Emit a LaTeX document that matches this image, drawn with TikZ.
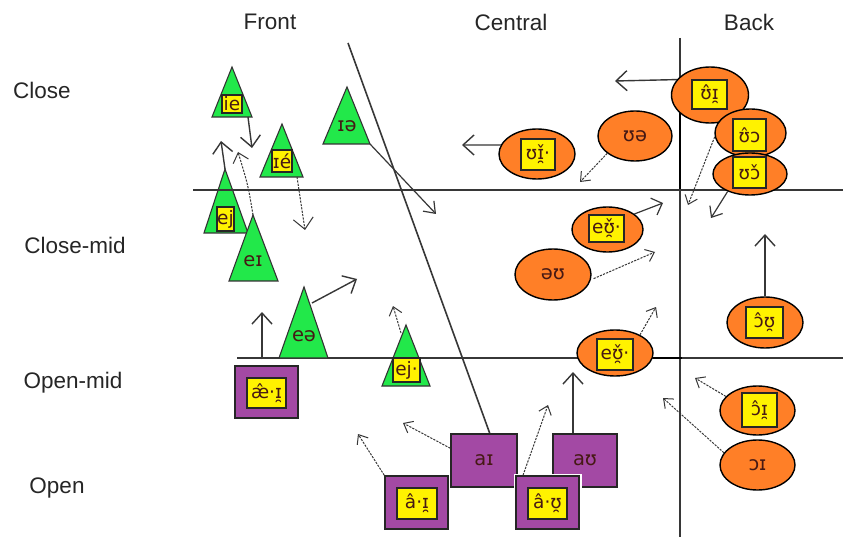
\documentclass[tikz,border=0pt]{standalone}
\usepackage{fontspec}
\setmainfont{Liberation Sans}
\newfontfamily\ipafont{DejaVu Sans}
\usetikzlibrary{arrows.meta,shapes.geometric}
\definecolor{tgreen}{RGB}{34,232,74}
\definecolor{torange}{RGB}{255,127,39}
\definecolor{tpurple}{RGB}{163,73,164}
\definecolor{tyellow}{RGB}{255,242,0}
\definecolor{tline}{RGB}{55,55,55}
\definecolor{ttext}{RGB}{70,25,20}
\newcommand\vtri[6]{%
  \path[tri] (#2,#3) -- (#5,#4) -- (#6,#4) -- cycle;
  \coordinate (#1-a) at (#2,#3);
  \coordinate (#1-l) at (#5,#4);
  \coordinate (#1-r) at (#6,#4);}
\begin{document}
\begin{tikzpicture}[x=1pt,y=-1pt,
  axisline/.style={tline, line width=1.6pt},
  thickseg/.style={black, line width=2.8pt},
  lbl/.style={font=\fontsize{22.5}{26}\selectfont, text=black!85},
  tri/.style={fill=tgreen, draw=black!80, line width=1.1pt, line join=miter},
  ell/.style={ellipse, fill=torange, draw=black, line width=1.4pt, inner sep=0pt},
  sq/.style={rectangle, fill=tpurple, draw=black!85, line width=1.4pt, inner sep=0pt},
  ybox/.style={rectangle, fill=tyellow, draw=black!85, line width=1.2pt, inner sep=0pt, font=\ipafont\fontsize{18.5}{20}\selectfont, text=ttext},
  ipat/.style={inner sep=0pt, font=\ipafont\fontsize{19.5}{21}\selectfont, text=ttext},
  solidarr/.style={tline, line width=1.4pt, -{Straight Barb[length=11pt,width=20pt]}},
  dotarr/.style={tline, line width=1pt, dash pattern=on 2.2pt off 1.2pt, -{Straight Barb[length=8pt,width=13pt]}},
]
\useasboundingbox (0,0) rectangle (843,537);
\fill[white] (0,0) rectangle (843,537);

% labels
\node[lbl] (front) at (270,22) {Front};
\node[lbl] (central) at (511,22) {Central};
\node[lbl] (back) at (749,22) {Back};
\node[lbl] (close) at (42,90) {Close};
\node[lbl] (closemid) at (75,245) {Close-mid};
\node[lbl] (openmid) at (73,383) {Open-mid};
\node[lbl] (open) at (57,488) {Open};

% grid lines
\coordinate (h2a) at (237,358); \coordinate (h2b) at (843,358);
\coordinate (va) at (680,38); \coordinate (vb) at (680,537);
\coordinate (da) at (348,43); \coordinate (db) at (490,434);
\draw[axisline] (h2a) -- (h2b);
\draw[axisline] (va) -- (vb);
\draw[axisline] (da) -- (db);
\coordinate (t1a) at (653,358); \coordinate (t1b) at (682,358);
\draw[thickseg] (t1a) -- (t1b);
\coordinate (t2a) at (680,112); \coordinate (t2b) at (680,190);
\draw[thickseg] (t2a) -- (t2b);

% triangles
\vtri{T1}{232}{67}{117}{212}{252}
\vtri{T2}{282}{124}{177}{260}{303}
\vtri{T3}{225}{169}{233}{204}{248}
\vtri{T4}{253}{215}{281}{229}{278}
\vtri{T5}{347}{87}{144}{323}{370}
\vtri{T6}{304}{287}{358}{279}{328}
\vtri{T7}{406}{325}{386}{382}{430}
\node[ybox, minimum width=20pt, minimum height=18pt] (y1) at (232,104) {ie};
\node[ybox, minimum width=20pt, minimum height=22pt] (y2) at (282,161) {ɪé};
\node[ybox, minimum width=17pt, minimum height=24pt] (y3) at (225.5,219) {ej};
\node[ipat] (x4) at (253,261) {eɪ};
\node[ipat] (x5) at (347,126) {ɪə};
\node[ipat] (x6) at (304,336) {eə};
\node[ybox, minimum width=27pt, minimum height=24pt] (y7) at (406.5,370) {ej·};

% upper horizontal line
\coordinate (h1a) at (193,190); \coordinate (h1b) at (843,190);
\draw[axisline] (h1a) -- (h1b);

% squares
\node[sq, minimum width=63pt, minimum height=52pt] (sqA) at (266.5,392) {};
\node[ybox, minimum width=39pt, minimum height=30pt] (ysqA) at (266.5,393) {æ̂·ɪ̯};
\node[sq, minimum width=66pt, minimum height=53pt, ipat] (sqAI) at (484,460.5) {aɪ};
\node[sq, minimum width=64pt, minimum height=53pt, ipat] (sqAU) at (585,460.5) {aʊ};
\node[sq, minimum width=63pt, minimum height=53pt] (sqAI2) at (416.5,502.5) {};
\node[ybox, minimum width=40pt, minimum height=31pt] (ysqAI2) at (417,503.5) {â·ɪ̯};
\node[sq, minimum width=63pt, minimum height=53pt, preaction={draw=white, line width=5pt}] (sqAU2) at (547.5,502.5) {};
\node[ybox, minimum width=39pt, minimum height=31pt] (ysqAU2) at (547.5,503.5) {â·ʊ̯};

% ellipses
\node[ell, minimum width=77pt, minimum height=56pt] (E1) at (710,95) {};
\node[ybox, minimum width=35pt, minimum height=29pt] (yE1) at (709.5,94.5) {ʊ̂ɪ̯};
\node[ell, minimum width=71pt, minimum height=48pt] (E2) at (750.5,133) {};
\node[ybox, minimum width=33pt, minimum height=32pt] (yE2) at (749.5,135) {ʊ̂ɔ};
\node[ell, minimum width=74pt, minimum height=42pt] (E3) at (750,174) {};
\node[ybox, minimum width=33pt, minimum height=31pt] (yE3) at (749.5,172.5) {ʊɔ̌};
\node[ell, minimum width=76pt, minimum height=50pt] (E4) at (537,154) {};
\node[ybox, minimum width=34pt, minimum height=31pt] (yE4) at (538,154.5) {ʊɪ̯̌·};
\node[ell, minimum width=74pt, minimum height=50pt, ipat] (E5) at (635,136) {ʊə};
\node[ell, minimum width=71pt, minimum height=45pt] (E6) at (607.5,229.5) {};
\node[ybox, minimum width=35pt, minimum height=27pt] (yE6) at (606.5,228.5) {eʊ̯̌·};
\node[ell, minimum width=76pt, minimum height=51pt, ipat] (E7) at (553,274.5) {əʊ};
\node[ell, minimum width=76pt, minimum height=46pt] (E8) at (615,353) {};
\node[ybox, minimum width=36pt, minimum height=31pt] (yE8) at (615,354.5) {eʊ̯̌·};
\node[ell, minimum width=76pt, minimum height=51pt] (E9) at (765,322.5) {};
\node[ybox, minimum width=37pt, minimum height=31pt] (yE9) at (764.5,322.5) {ɔ̂ʊ̯};
\node[ell, minimum width=75pt, minimum height=49pt] (E10) at (757.5,410.5) {};
\node[ybox, minimum width=35pt, minimum height=34pt] (yE10) at (759.5,410) {ɔ̂ɪ̯};
\node[ell, minimum width=75pt, minimum height=50pt, ipat] (E11) at (757.5,465) {ɔɪ};

% arrow start / end coordinates
\coordinate (s1) at (248,117);  \coordinate (e1) at (252,148);
\coordinate (e2) at (221,141);
\coordinate (e3) at (238,152);
\coordinate (s4) at (297,177);  \coordinate (e4) at (305,230);
\coordinate (e5) at (436,214);
\coordinate (s6) at (312,303);  \coordinate (e6) at (357,279);
\coordinate (e7) at (262,312);
\coordinate (s8) at (401,333);  \coordinate (e8) at (393,306);
\coordinate (e9) at (358,434);
\coordinate (e10) at (403,423);
\coordinate (e11) at (548,405);
\coordinate (e12) at (573,372);
\coordinate (e13) at (656,307);
\coordinate (e14) at (655,252);
\coordinate (e15) at (663,203);
\coordinate (e16) at (615,81);
\coordinate (e17) at (462,145);
\coordinate (e18) at (580,182);
\coordinate (e19) at (688,205);
\coordinate (e20) at (711,218);
\coordinate (e21) at (765,234);
\coordinate (e22) at (695,378);
\coordinate (e23) at (663,398);

% arrows
\draw[solidarr] (s1) -- (e1);
\draw[solidarr] (T3-a) -- (e2);
\draw[dotarr, -{Straight Barb[length=9pt,width=16pt]}] (T4-a) .. controls (248,185) .. (e3);
\draw[dotarr, -{Straight Barb[length=11pt,width=20pt]}] (s4) -- (e4);
\draw[solidarr, line width=1.2pt, -{Straight Barb[length=10pt,width=15pt]}] (T5-r) -- (e5);
\draw[solidarr] (s6) -- (e6);
\draw[solidarr, shorten <=6pt] ([xshift=-4.5pt]sqA.north) -- (e7);
\draw[dotarr] (s8) -- (e8);
\draw[dotarr] (sqAI2.north west) -- (e9);
\draw[dotarr] (sqAI.160) -- (e10);
\draw[dotarr] ([xshift=-24.5pt]sqAU2.north) -- (e11);
\draw[solidarr] ([xshift=-12pt]sqAU.north) -- (e12);
\draw[dotarr] (E8.36) -- (e13);
\draw[dotarr, shorten <=3pt] (E7.-8) -- (e14);
\draw[solidarr, line width=1.2pt, -{Straight Barb[length=9pt,width=18pt]}] (E6.30) -- (e15);
\draw[solidarr] (E1.155) -- (e16);
\draw[solidarr] (E4.166) -- (e17);
\draw[dotarr] (E5.212) -- (e18);
\draw[dotarr] (E2.186) -- (e19);
\draw[solidarr, line width=1.2pt, -{Straight Barb[length=9pt,width=15pt]}] (E3.218) -- (e20);
\draw[solidarr] (E9.north) -- (e21);
\draw[dotarr] (E10.156) -- (e22);
\draw[dotarr] (E11.160) -- (e23);
\end{tikzpicture}
\end{document}
